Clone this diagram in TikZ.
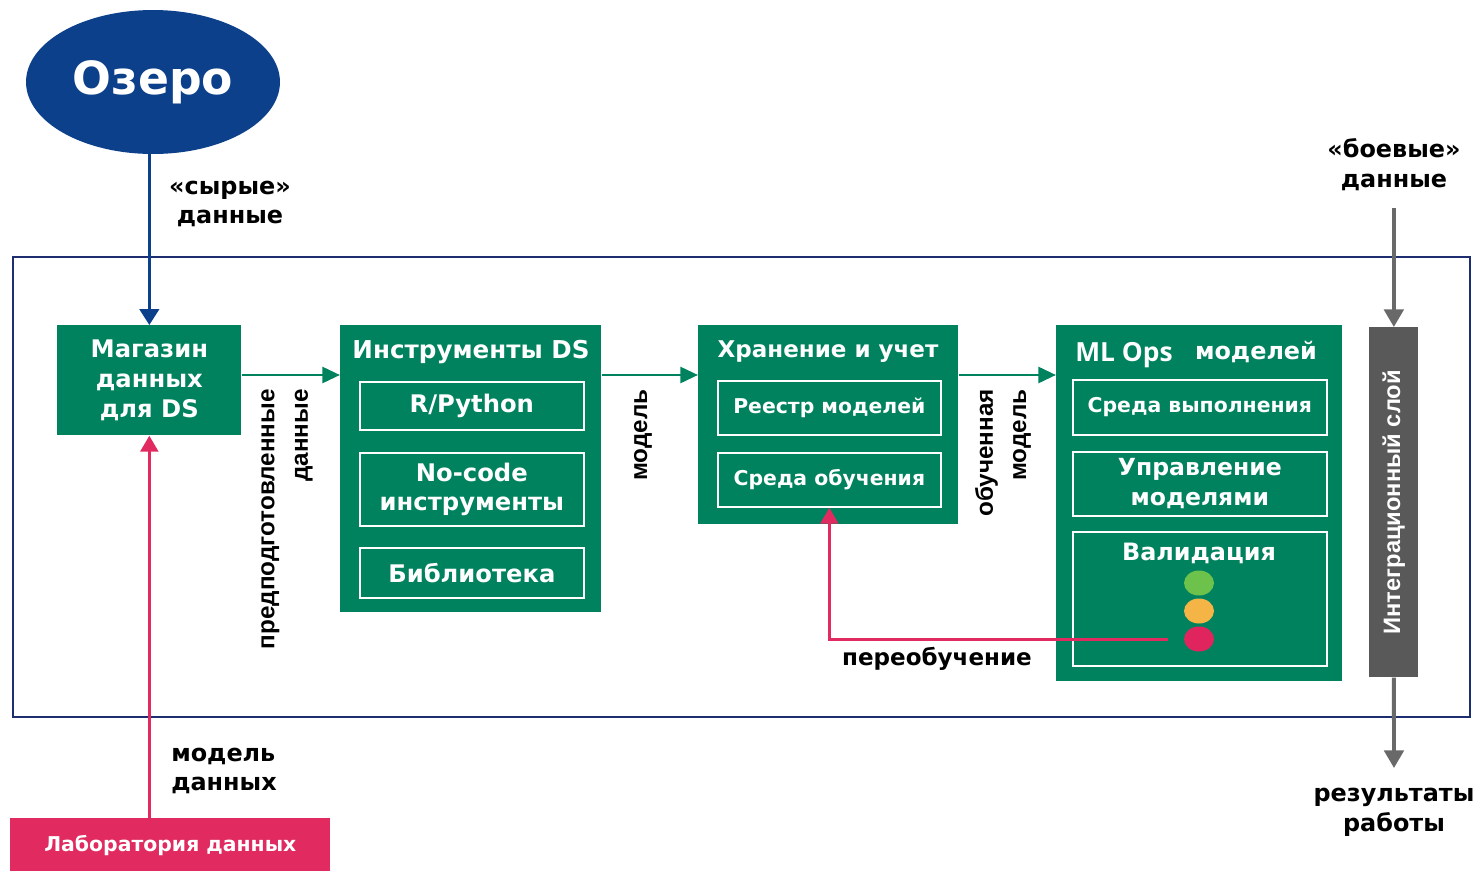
\documentclass[tikz,border=0pt]{standalone}
\usepackage{fontspec}
\setmainfont{DejaVu Sans}
\newfontfamily\opsfont{Open Sans}
\newfontfamily\layerfont{Liberation Sans}
\usetikzlibrary{arrows.meta,shapes.geometric}
\definecolor{dsgreen}{RGB}{0,130,94}
\definecolor{lakeblue}{RGB}{12,64,138}
\definecolor{framenavy}{RGB}{28,46,112}
\definecolor{labpink}{RGB}{224,42,96}
\definecolor{layergray}{RGB}{89,89,89}
\definecolor{arrowgray}{RGB}{105,105,105}
\definecolor{lightgreen}{RGB}{108,194,74}
\definecolor{lightorange}{RGB}{245,180,70}
\definecolor{lightred}{RGB}{224,36,94}
\tikzset{
		blockStyle/.style = {fill=dsgreen, text=white, anchor=north west, inner sep=0pt,
			font=\bfseries\fontsize{13.8}{17}\selectfont, align=center},
		partStyle/.style = {draw=white, line width=1pt, text=white, anchor=north west, inner sep=0pt,
			font=\bfseries\fontsize{13.8}{17}\selectfont, align=center},
		smallPart/.style = {partStyle, font=\bfseries\fontsize{11.6}{15}\selectfont},
		titleStyle/.style = {text=white, font=\bfseries\fontsize{13.6}{17}\selectfont},
		labelStyle/.style = {text=black, font=\bfseries\fontsize{13.6}{17}\selectfont, align=center},
		sideLabel/.style = {text=black, font=\layerfont\bfseries\fontsize{13.8}{19}\selectfont,
			rotate=90, anchor=east, align=right, inner sep=0pt},
		lightStyle/.style = {ellipse, minimum width=0.6cm, minimum height=0.5cm, inner sep=0pt},
		flowStyle/.style = {line width=1.7pt, color=dsgreen, -{Triangle[length=10pt,width=9pt]}},
		lakeFlow/.style = {line width=1.7pt, color=lakeblue, -{Triangle[length=9pt,width=11pt]}},
		labFlow/.style = {line width=1.7pt, color=labpink, -{Triangle[length=9pt,width=10pt]}},
		grayFlow/.style = {line width=2.2pt, color=arrowgray, -{Triangle[length=10pt,width=11pt]}}
}

\begin{document}
\begin{tikzpicture}[x=0.02cm, y=-0.02cm]
  \useasboundingbox (0,0) rectangle (1478,870);

  % Lake and frame
  \node [ellipse, fill=lakeblue, text=white, inner sep=0pt, minimum width=5.08cm, minimum height=2.88cm,
    font=\bfseries\fontsize{26}{30}\selectfont] (lake) at (153,82) {Озеро};
  \draw [framenavy, line width=1.2pt] (13,257) rectangle (1470,717);

  % Main blocks
  \node [blockStyle, minimum width=3.68cm, minimum height=2.2cm] (store) at (57,325) {Магазин\\данных\\для DS};
  \node [blockStyle, minimum width=5.22cm, minimum height=5.74cm] (tools) at (340,325) {};
  \node [blockStyle, minimum width=5.2cm, minimum height=3.98cm] (storage) at (698,325) {};
  \node [blockStyle, minimum width=5.72cm, minimum height=7.12cm] (mlops) at (1056,325) {};
  \node [fill=layergray, anchor=north west, minimum width=0.98cm, minimum height=7cm] (layer) at (1369,327) {};
  \node [text=white, rotate=90, font=\layerfont\bfseries\fontsize{13.5}{16}\selectfont] (layerText) at (layer.center) {Интеграционный слой};
  \node [fill=labpink, text=white, anchor=north west, minimum width=6.4cm, minimum height=1.1cm,
    font=\bfseries\fontsize{11.6}{14}\selectfont] (lab) at (10,818) {Лаборатория данных};

  % Titles
  \node [titleStyle, font=\bfseries\fontsize{14}{17}\selectfont] (toolsTitle) at (471,352) {Инструменты DS};
  \node [titleStyle, font=\bfseries\fontsize{13.1}{17}\selectfont] (storageTitle) at (828,352) {Хранение и учет};
  \node [titleStyle, font=\opsfont\bfseries\fontsize{15}{19}\selectfont] (opsTitle) at (1124,355) {ML Ops};
  \node [titleStyle] (opsTitleTwo) at (1256,352) {моделей};

  % Parts inside blocks
  \node [partStyle, minimum width=4.48cm, minimum height=0.96cm] (rpy) at (359,381) {R/Python};
  \node [partStyle, minimum width=4.48cm, minimum height=1.46cm] (nocode) at (359,452) {No-code\\инструменты};
  \node [partStyle, minimum width=4.48cm, minimum height=1cm] (library) at (359,547) {Библиотека};
  \node [smallPart, minimum width=4.46cm, minimum height=1.08cm] (registry) at (717,380) {Реестр моделей};
  \node [smallPart, minimum width=4.46cm, minimum height=1.08cm] (trainEnv) at (717,452) {Среда обучения};
  \node [smallPart, minimum width=5.08cm, minimum height=1.1cm] (runEnv) at (1072,379) {Среда выполнения};
  \node [partStyle, minimum width=5.08cm, minimum height=1.28cm, font=\bfseries\fontsize{13.4}{17}\selectfont] (manage) at (1072,451) {Управление\\моделями};
  \node [partStyle, minimum width=5.08cm, minimum height=2.68cm] (valid) at (1072,531) {};
  \node [titleStyle] (validTitle) at (1199,553) {Валидация};

  % Traffic light
  \node [lightStyle, fill=lightgreen] (greenLight) at (1199,583) {};
  \node [lightStyle, fill=lightorange] (orangeLight) at (1199,611) {};
  \node [lightStyle, fill=lightred] (redLight) at (1199,639) {};

  % Labels
  \node [labelStyle] (rawLabel) at (230,204) {«сырые»\\данные};
  \node [labelStyle] (liveLabel) at (1394,165) {«боевые»\\данные};
  \node [labelStyle] (resultLabel) at (1394,812) {результаты\\работы};
  \node [labelStyle, align=left] (dmLabel) at (224,771) {модель\\данных};
  \node [labelStyle, font=\bfseries\fontsize{13.1}{17}\selectfont] (retrainLabel) at (937,659) {переобучение};
  \node [sideLabel] (prepLabel) at (287,389) {предподготовленные\\данные};
  \node [sideLabel] (modelLabel) at (643,389) {модель};
  \node [sideLabel] (trainedLabel) at (1003,389) {обученная\\модель};
  \coordinate (resultsOut) at (1394,768);

  % Connectors
  \draw [lakeFlow] (lake.south -| store.north) -- (store.north);
  \draw [labFlow] (lab.north -| store.south) -- (store.south);
  \draw [flowStyle] ([yshift=-1cm]store.north east) -- ([yshift=-1cm]store.north east -| tools.west);
  \draw [flowStyle] ([yshift=-1cm]tools.north east) -- ([yshift=-1cm]tools.north east -| storage.west);
  \draw [flowStyle] ([yshift=-1cm]storage.north east) -- ([yshift=-1cm]storage.north east -| mlops.west);
  \draw [labFlow] ([xshift=-9pt]redLight.west) -| (trainEnv.south);
  \draw [grayFlow, shorten <=6pt] (liveLabel.south -| layer.north) -- (layer.north);
  \draw [grayFlow] (layer.south) -- (resultsOut);

\end{tikzpicture}
\end{document}
